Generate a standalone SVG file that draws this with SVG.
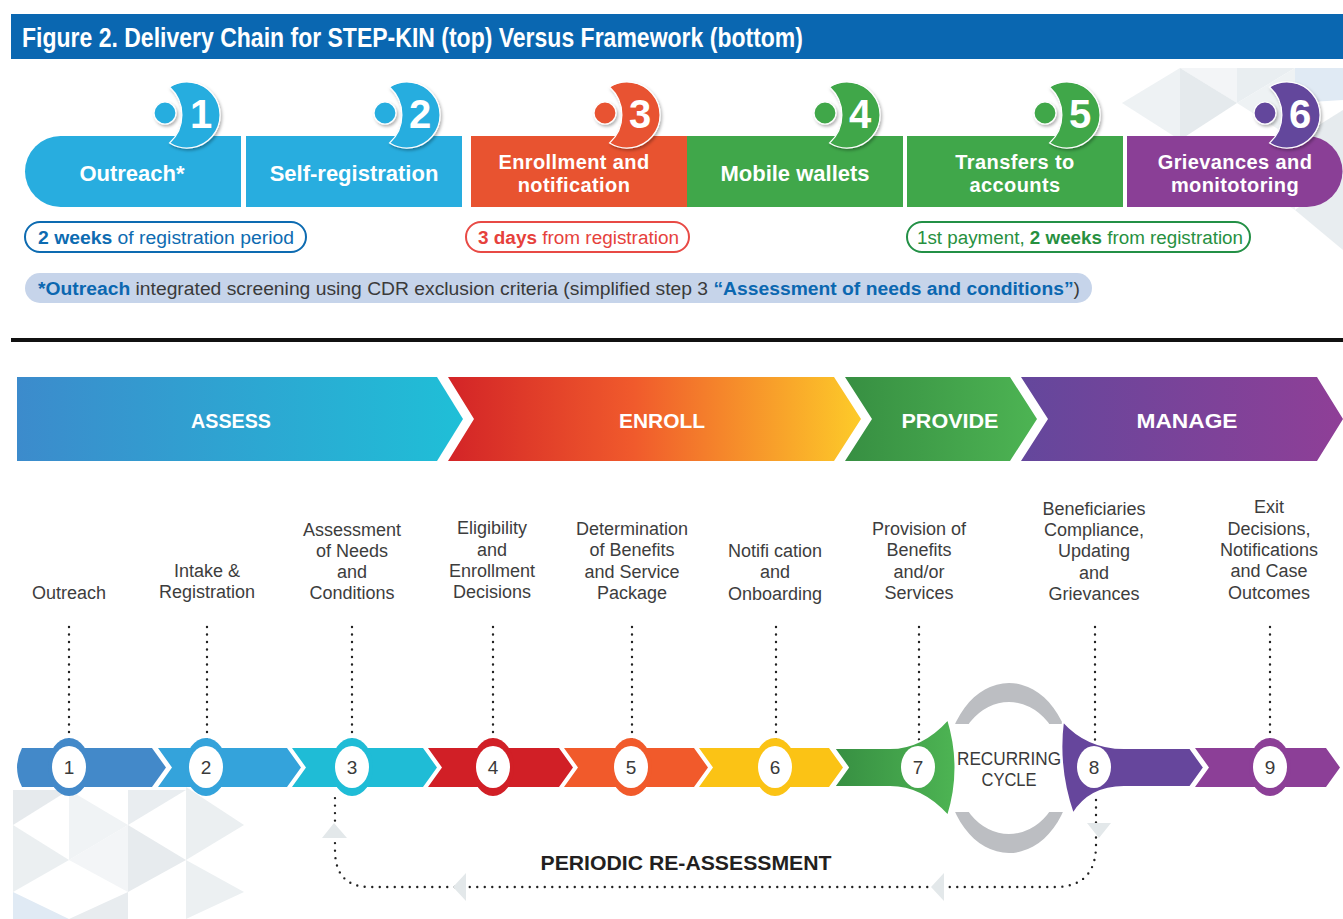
<svg xmlns="http://www.w3.org/2000/svg" width="1343" height="919" viewBox="0 0 1343 919">
  <defs>
    <style>
      .title { font-family: "Liberation Sans", Arial, sans-serif; font-weight: bold; font-size: 27px; fill: #ffffff; }
      .box-label { font-family: "Liberation Sans", Arial, sans-serif; font-weight: bold; font-size: 22px; fill: #ffffff; text-anchor: middle; }
      .box-label2 { font-family: "Liberation Sans", Arial, sans-serif; font-weight: bold; font-size: 20px; letter-spacing: 0.4px; fill: #ffffff; text-anchor: middle; }
      .badge-num { font-family: "Liberation Sans", Arial, sans-serif; font-weight: bold; font-size: 40px; fill: #ffffff; text-anchor: middle; }
      .pill-text { font-family: "Liberation Sans", Arial, sans-serif; font-size: 18px; }
      .b { font-weight: bold; }
      .phase { font-family: "Liberation Sans", Arial, sans-serif; font-weight: bold; font-size: 21px; fill: #ffffff; text-anchor: middle; }
      .step { font-family: "Liberation Sans", Arial, sans-serif; font-size: 18px; fill: #3d3d3d; text-anchor: middle; }
      .num { font-family: "Liberation Sans", Arial, sans-serif; font-size: 19px; fill: #3a3a3a; text-anchor: middle; }
      .dots { fill: none; stroke: #222222; stroke-width: 2.4; stroke-linecap: round; stroke-dasharray: 0 7.5; }
      .ring-white { fill: #ffffff; }
      .tri { stroke: none; }
      .arrowhead { fill: #e3e8ea; }
    </style>
    <filter id="badgeShadow" x="-30%" y="-30%" width="160%" height="160%">
      <feDropShadow dx="1.5" dy="2" stdDeviation="1.5" flood-color="#000000" flood-opacity="0.3"/>
    </filter>
    <linearGradient id="gAssess" gradientUnits="userSpaceOnUse" x1="17" y1="0" x2="463" y2="0">
      <stop offset="0" stop-color="#3c8bcc"/>
      <stop offset="1" stop-color="#1fbfd7"/>
    </linearGradient>
    <linearGradient id="gEnroll" gradientUnits="userSpaceOnUse" x1="448" y1="0" x2="861" y2="0">
      <stop offset="0" stop-color="#d32427"/>
      <stop offset="0.45" stop-color="#f05a2c"/>
      <stop offset="1" stop-color="#fdcb29"/>
    </linearGradient>
    <linearGradient id="gProvide" gradientUnits="userSpaceOnUse" x1="845" y1="0" x2="1037" y2="0">
      <stop offset="0" stop-color="#378f42"/>
      <stop offset="1" stop-color="#4db453"/>
    </linearGradient>
    <linearGradient id="gManage" gradientUnits="userSpaceOnUse" x1="1021" y1="0" x2="1343" y2="0">
      <stop offset="0" stop-color="#64479c"/>
      <stop offset="1" stop-color="#8f3f97"/>
    </linearGradient>
    <linearGradient id="gSeg7" gradientUnits="userSpaceOnUse" x1="834" y1="0" x2="955" y2="0">
      <stop offset="0" stop-color="#378f42"/>
      <stop offset="1" stop-color="#4db453"/>
    </linearGradient>
    <clipPath id="cycleClip">
      <rect x="900" y="670" width="220" height="54"/>
      <rect x="900" y="812" width="220" height="52"/>
    </clipPath>
  </defs>

  <rect x="0" y="0" width="1343" height="919" fill="#ffffff"/>

  <!-- faint triangle mosaic, top right -->
  <g id="mosaic-top">
    <polygon class="tri" points="1122,103 1180,68 1180,140" fill="#eef2f4"/>
    <polygon class="tri" points="1180,68 1237,68 1237,103" fill="#f3f5f7"/>
    <polygon class="tri" points="1180,68 1237,103 1180,140" fill="#e5eaed"/>
    <polygon class="tri" points="1237,68 1295,68 1237,103" fill="#e9eef1"/>
    <polygon class="tri" points="1295,68 1343,68 1343,100 1295,103" fill="#e0eaf4"/>
    <polygon class="tri" points="1237,103 1295,68 1295,140" fill="#eef2f4"/>
    <polygon class="tri" points="1295,140 1343,110 1343,175" fill="#e6ebee"/>
    <polygon class="tri" points="1237,175 1295,140 1295,210" fill="#f0f3f5"/>
    <polygon class="tri" points="1295,210 1343,175 1343,250" fill="#e8edf0"/>
  </g>

  <!-- faint triangle mosaic, bottom left -->
  <g id="mosaic-bottom">
    <polygon class="tri" points="13,790 69,790 13,825" fill="#e6eaed"/>
    <polygon class="tri" points="69,790 128,825 69,860" fill="#f0f3f5"/>
    <polygon class="tri" points="128,790 186,790 128,825" fill="#e9edf0"/>
    <polygon class="tri" points="186,787 244,825 186,860" fill="#ebeff1"/>
    <polygon class="tri" points="13,825 69,860 13,892" fill="#ebeff1"/>
    <polygon class="tri" points="69,860 128,825 128,892" fill="#f3f5f7"/>
    <polygon class="tri" points="128,825 186,860 128,892" fill="#e7ebee"/>
    <polygon class="tri" points="186,860 244,892 186,919" fill="#ecf0f2"/>
    <polygon class="tri" points="13,892 69,919 13,919" fill="#e0eaf4"/>
    <polygon class="tri" points="69,919 128,892 128,919" fill="#e8ecef"/>
  </g>

  <!-- title bar -->
  <g id="title">
    <rect x="11" y="14" width="1332" height="45" fill="#0a67b1"/>
    <text class="title" x="22" y="47" textLength="781" lengthAdjust="spacingAndGlyphs">Figure 2. Delivery Chain for STEP-KIN (top) Versus Framework (bottom)</text>
  </g>

  <!-- STEP-KIN delivery steps -->
  <g id="step-outreach">
    <path d="M60.5,136 H241 V207 H60.5 A35.5,35.5 0 0 1 60.5,136 Z" fill="#28addf"/>
    <text class="box-label" x="132" y="181">Outreach*</text>
  </g>
  <g id="step-self-registration">
    <rect x="246" y="136" width="216" height="71" fill="#28addf"/>
    <text class="box-label" x="354" y="181">Self-registration</text>
  </g>
  <g id="step-enrollment">
    <rect x="471" y="136" width="217" height="71" fill="#e85330"/>
    <text class="box-label2" x="574" y="169">Enrollment and</text>
    <text class="box-label2" x="574" y="192">notification</text>
  </g>
  <g id="step-mobile-wallets">
    <rect x="687" y="136" width="216" height="71" fill="#40a74a"/>
    <text class="box-label" x="795" y="181">Mobile wallets</text>
  </g>
  <g id="step-transfers">
    <rect x="907" y="136" width="216" height="71" fill="#40a74a"/>
    <text class="box-label2" x="1015" y="169">Transfers to</text>
    <text class="box-label2" x="1015" y="192">accounts</text>
  </g>
  <g id="step-grievances">
    <path d="M1127,136 H1307 A35.5,35.5 0 0 1 1307,207 H1127 Z" fill="#8a3f96"/>
    <text class="box-label2" x="1235" y="169">Grievances and</text>
    <text class="box-label2" x="1235" y="192">monitotoring</text>
  </g>

  <!-- numbered badges: dot + crescent -->
  <g id="badges" filter="url(#badgeShadow)">
    <g id="badge-1" fill="#28addf" stroke="#ffffff" stroke-width="1.2">
      <circle cx="165" cy="113" r="11"/>
      <path d="M169.6,87 A33,33 0 1 1 169.6,143 A38,38 0 0 0 169.6,87 Z"/>
    </g>
    <g id="badge-2" fill="#28addf" stroke="#ffffff" stroke-width="1.2">
      <circle cx="385" cy="113" r="11"/>
      <path d="M389.6,87 A33,33 0 1 1 389.6,143 A38,38 0 0 0 389.6,87 Z"/>
    </g>
    <g id="badge-3" fill="#e85330" stroke="#ffffff" stroke-width="1.2">
      <circle cx="605" cy="113" r="11"/>
      <path d="M609.6,87 A33,33 0 1 1 609.6,143 A38,38 0 0 0 609.6,87 Z"/>
    </g>
    <g id="badge-4" fill="#40a74a" stroke="#ffffff" stroke-width="1.2">
      <circle cx="825" cy="113" r="11"/>
      <path d="M829.6,87 A33,33 0 1 1 829.6,143 A38,38 0 0 0 829.6,87 Z"/>
    </g>
    <g id="badge-5" fill="#40a74a" stroke="#ffffff" stroke-width="1.2">
      <circle cx="1045" cy="113" r="11"/>
      <path d="M1049.6,87 A33,33 0 1 1 1049.6,143 A38,38 0 0 0 1049.6,87 Z"/>
    </g>
    <g id="badge-6" fill="#64479c" stroke="#ffffff" stroke-width="1.2">
      <circle cx="1265" cy="113" r="11"/>
      <path d="M1269.6,87 A33,33 0 1 1 1269.6,143 A38,38 0 0 0 1269.6,87 Z"/>
    </g>
  </g>
  <g id="badge-numbers">
    <text class="badge-num" x="201" y="128">1</text>
    <text class="badge-num" x="420" y="128">2</text>
    <text class="badge-num" x="640" y="128">3</text>
    <text class="badge-num" x="860" y="128">4</text>
    <text class="badge-num" x="1080" y="128">5</text>
    <text class="badge-num" x="1300" y="128">6</text>
  </g>

  <!-- timing pills -->
  <g id="pill-registration">
    <rect x="25" y="222" width="281" height="30" rx="15" fill="#ffffff" stroke="#0d6bb1" stroke-width="2"/>
    <text class="pill-text" x="38" y="243.5" fill="#0d6bb1" textLength="256" lengthAdjust="spacingAndGlyphs"><tspan class="b">2 weeks</tspan> of registration period</text>
  </g>
  <g id="pill-enrollment">
    <rect x="466" y="222" width="223" height="30" rx="15" fill="#ffffff" stroke="#e84a45" stroke-width="2"/>
    <text class="pill-text" x="478" y="243.5" fill="#e6413c" textLength="201" lengthAdjust="spacingAndGlyphs"><tspan class="b">3 days</tspan> from registration</text>
  </g>
  <g id="pill-payment">
    <rect x="907" y="222" width="343" height="30" rx="15" fill="#ffffff" stroke="#239046" stroke-width="2"/>
    <text class="pill-text" x="917" y="243.5" fill="#27903f" textLength="326" lengthAdjust="spacingAndGlyphs">1st payment, <tspan class="b">2 weeks</tspan> from registration</text>
  </g>
  <g id="note">
    <rect x="25" y="273" width="1067" height="30" rx="15" fill="#c6d4ea"/>
    <text class="pill-text" x="38" y="294.5" fill="#3a3a3a" textLength="1042" lengthAdjust="spacingAndGlyphs"><tspan class="b" fill="#0b67b0">*Outreach</tspan> integrated screening using CDR exclusion criteria (simplified step 3 <tspan class="b" fill="#0b67b0">“Assessment of needs and conditions”</tspan>)</text>
  </g>

  <!-- separator -->
  <rect id="separator" x="11" y="338" width="1332" height="4" fill="#111111"/>

  <!-- framework phases -->
  <g id="phase-assess">
    <path d="M17,377 H437 L463,419 L437,461 H17 Z" fill="url(#gAssess)"/>
    <text class="phase" x="231" y="428" textLength="80" lengthAdjust="spacingAndGlyphs">ASSESS</text>
  </g>
  <g id="phase-enroll">
    <path d="M448,377 H834 L861,419 L834,461 H448 L474,419 Z" fill="url(#gEnroll)"/>
    <text class="phase" x="662" y="428" textLength="86" lengthAdjust="spacingAndGlyphs">ENROLL</text>
  </g>
  <g id="phase-provide">
    <path d="M845,377 H1010 L1037,419 L1010,461 H845 L872,419 Z" fill="url(#gProvide)"/>
    <text class="phase" x="950" y="428" textLength="97" lengthAdjust="spacingAndGlyphs">PROVIDE</text>
  </g>
  <g id="phase-manage">
    <path d="M1021,377 H1317 L1343,419 L1317,461 H1021 L1048,419 Z" fill="url(#gManage)"/>
    <text class="phase" x="1187" y="428" textLength="101" lengthAdjust="spacingAndGlyphs">MANAGE</text>
  </g>

  <!-- framework step labels -->
  <g id="labels">
    <text class="step" x="69" y="599">Outreach</text>
    <text class="step" x="207" y="577">Intake &amp;</text>
    <text class="step" x="207" y="598">Registration</text>
    <text class="step" x="352" y="536">Assessment</text>
    <text class="step" x="352" y="557">of Needs</text>
    <text class="step" x="352" y="578">and</text>
    <text class="step" x="352" y="599">Conditions</text>
    <text class="step" x="492" y="534">Eligibility</text>
    <text class="step" x="492" y="556">and</text>
    <text class="step" x="492" y="577">Enrollment</text>
    <text class="step" x="492" y="598">Decisions</text>
    <text class="step" x="632" y="535">Determination</text>
    <text class="step" x="632" y="556">of Benefits</text>
    <text class="step" x="632" y="578">and Service</text>
    <text class="step" x="632" y="599">Package</text>
    <text class="step" x="775" y="557">Notifi cation</text>
    <text class="step" x="775" y="578">and</text>
    <text class="step" x="775" y="600">Onboarding</text>
    <text class="step" x="919" y="535">Provision of</text>
    <text class="step" x="919" y="556">Benefits</text>
    <text class="step" x="919" y="578">and/or</text>
    <text class="step" x="919" y="599">Services</text>
    <text class="step" x="1094" y="515">Beneficiaries</text>
    <text class="step" x="1094" y="536">Compliance,</text>
    <text class="step" x="1094" y="557">Updating</text>
    <text class="step" x="1094" y="579">and</text>
    <text class="step" x="1094" y="600">Grievances</text>
    <text class="step" x="1269" y="513">Exit</text>
    <text class="step" x="1269" y="535">Decisions,</text>
    <text class="step" x="1269" y="556">Notifications</text>
    <text class="step" x="1269" y="577">and Case</text>
    <text class="step" x="1269" y="599">Outcomes</text>
  </g>

  <!-- connectors: dotted leaders and the re-assessment loop -->
  <g id="connectors">
    <path class="dots" d="M69,627 V744"/>
    <path class="dots" d="M207,627 V744"/>
    <path class="dots" d="M352,627 V744"/>
    <path class="dots" d="M493,627 V744"/>
    <path class="dots" d="M632,627 V744"/>
    <path class="dots" d="M776,627 V744"/>
    <path class="dots" d="M919,627 V744"/>
    <path class="dots" d="M1095,627 V744"/>
    <path class="dots" d="M1270,627 V744"/>
    <path class="dots" d="M1096,800 V845 Q1096,887 1055,887 H370 Q335,887 335,850 V797"/>
    <polygon class="arrowhead" points="1087,823 1111,823 1099,838"/>
    <polygon class="arrowhead" points="334,823 322,838 347,838"/>
    <polygon class="arrowhead" points="931,887 944,873 944,901"/>
    <polygon class="arrowhead" points="453,887 466,873 466,901"/>
  </g>

  <!-- recurring cycle ring -->
  <g id="recurring-cycle">
    <path d="M946,768 A63,85 0 1 0 1072,768 A63,85 0 1 0 946,768 Z M955,768 A54,66 0 1 1 1063,768 A54,66 0 1 1 955,768 Z" fill="#bcbec2" fill-rule="evenodd" clip-path="url(#cycleClip)"/>
  </g>

  <!-- framework chain nodes -->
  <g id="node-1">
    <path d="M22,748 H152 L166,767.5 L152,787 H22 Q12,767.5 22,748 Z" fill="#4389c9"/>
    <ellipse cx="69" cy="767" rx="21" ry="29" fill="#4389c9"/>
    <ellipse class="ring-white" cx="69" cy="767" rx="17" ry="21"/>
    <text class="num" x="69" y="774">1</text>
  </g>
  <g id="node-2">
    <path d="M158,748 H287 L301,767.5 L287,787 H158 L172,767.5 Z" fill="#34a3db"/>
    <ellipse cx="206" cy="767" rx="21" ry="29" fill="#34a3db"/>
    <ellipse class="ring-white" cx="206" cy="767" rx="17" ry="21"/>
    <text class="num" x="206" y="774">2</text>
  </g>
  <g id="node-3">
    <path d="M292,748 H423 L437,767.5 L423,787 H292 L306,767.5 Z" fill="#1fbcd6"/>
    <ellipse cx="352" cy="767" rx="21" ry="29" fill="#1fbcd6"/>
    <ellipse class="ring-white" cx="352" cy="767" rx="17" ry="21"/>
    <text class="num" x="352" y="774">3</text>
  </g>
  <g id="node-4">
    <path d="M428,748 H559 L573,767.5 L559,787 H428 L442,767.5 Z" fill="#d11f26"/>
    <ellipse cx="493" cy="767" rx="21" ry="29" fill="#d11f26"/>
    <ellipse class="ring-white" cx="493" cy="767" rx="17" ry="21"/>
    <text class="num" x="493" y="774">4</text>
  </g>
  <g id="node-5">
    <path d="M564,748 H694 L708,767.5 L694,787 H564 L578,767.5 Z" fill="#f15a2b"/>
    <ellipse cx="631" cy="767" rx="21" ry="29" fill="#f15a2b"/>
    <ellipse class="ring-white" cx="631" cy="767" rx="17" ry="21"/>
    <text class="num" x="631" y="774">5</text>
  </g>
  <g id="node-6">
    <path d="M699,748 H829 L843,767.5 L829,787 H699 L713,767.5 Z" fill="#fbc315"/>
    <ellipse cx="775" cy="767" rx="21" ry="29" fill="#fbc315"/>
    <ellipse class="ring-white" cx="775" cy="767" rx="17" ry="21"/>
    <text class="num" x="775" y="774">6</text>
  </g>
  <g id="node-7">
    <path d="M834,748 H890 C912,748 931,738 948,719 Q963,768 948,816 C931,797 912,787 890,787 H834 L848,767.5 Z" fill="url(#gSeg7)" stroke="#ffffff" stroke-width="2" stroke-linejoin="round"/>
    <ellipse class="ring-white" cx="918" cy="767" rx="17" ry="21"/>
    <text class="num" x="918" y="774">7</text>
  </g>
  <g id="node-8">
    <path d="M1063,721 C1080,740 1100,748 1124,748 H1190 L1204,767.5 L1190,787 H1124 C1100,787 1084,796 1073,814 Q1057,768 1063,721 Z" fill="#66469c" stroke="#ffffff" stroke-width="2" stroke-linejoin="round"/>
    <ellipse class="ring-white" cx="1094" cy="767" rx="17" ry="21"/>
    <text class="num" x="1094" y="774">8</text>
  </g>
  <g id="node-9">
    <path d="M1195,748 H1326 L1340,767.5 L1326,787 H1195 L1209,767.5 Z" fill="#8c3f97"/>
    <ellipse cx="1270" cy="767" rx="21" ry="29" fill="#8c3f97"/>
    <ellipse class="ring-white" cx="1270" cy="767" rx="17" ry="21"/>
    <text class="num" x="1270" y="774">9</text>
  </g>

  <g id="recurring-label">
    <text class="num" x="1009" y="765" font-size="20" textLength="104" lengthAdjust="spacingAndGlyphs">RECURRING</text>
    <text class="num" x="1009" y="786" font-size="20" textLength="55" lengthAdjust="spacingAndGlyphs">CYCLE</text>
  </g>

  <text id="reassessment-label" x="686" y="870" text-anchor="middle" font-family="Liberation Sans, Arial, sans-serif" font-weight="bold" font-size="21" fill="#231f20" textLength="291" lengthAdjust="spacingAndGlyphs">PERIODIC RE-ASSESSMENT</text>
</svg>
